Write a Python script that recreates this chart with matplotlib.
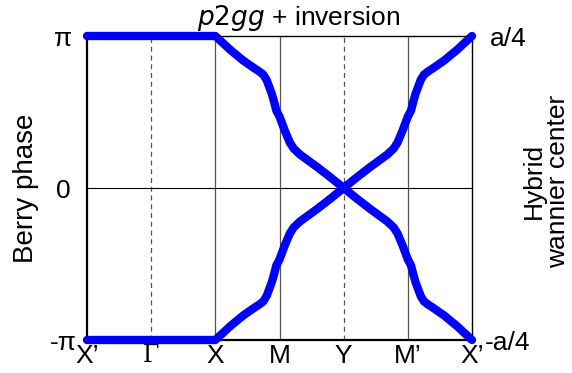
import numpy as np
import matplotlib

matplotlib.use("Agg")
import matplotlib.pyplot as plt

plt.rcParams["font.family"] = ["Liberation Sans", "DejaVu Sans"]

# k-path positions and labels
k_ticks = [0, 1, 2, 3, 4, 5, 6]
k_labels = ["X’", "Γ", "X", "M", "Y", "M’", "X’"]

# upper Wannier band along the path (y in units of pi)
k_path = [0.0, 2.0, 2.23, 2.43, 2.6, 2.69, 2.75, 2.80, 2.88, 2.92, 2.95, 3.0,
          3.08, 3.16, 3.22, 3.32, 3.58, 3.78, 4.0,
          4.22, 4.42, 4.68, 4.78, 4.84, 4.92, 5.0, 5.05, 5.08, 5.12, 5.2, 5.25,
          5.31, 5.4, 5.57, 5.77, 6.0]
phase_up = [1.0, 1.0, 0.91, 0.84, 0.79, 0.765, 0.745, 0.71, 0.62, 0.56, 0.51, 0.47,
            0.38, 0.30, 0.26, 0.22, 0.14, 0.075, 0.0,
            -0.075, -0.14, -0.22, -0.26, -0.30, -0.38, -0.47, -0.51, -0.56, -0.62,
            -0.71, -0.745, -0.765, -0.79, -0.84, -0.91, -1.0]
# lower band is the inversion partner
phase_dn = [-v for v in phase_up]

W, H = 572, 373
fig = plt.figure(figsize=(W / 100, H / 100), dpi=100)
ax = fig.add_axes([87 / W, 1 - 340 / H, 385 / W, 304 / H])

for xv in [1, 4]:
    ax.axvline(xv, color="#555555", ls=(0, (4, 3)), lw=0.9, zorder=1)
for xv in [2, 3, 5]:
    ax.axvline(xv, color="#555555", lw=0.9, zorder=1)
ax.axhline(0, color="black", lw=0.8, zorder=1)

for ys in (phase_up, phase_dn):
    ax.plot(k_path, np.array(ys) * np.pi, color="#0000ff", lw=6,
            solid_capstyle="round", solid_joinstyle="round", zorder=3, clip_on=False)

ax.set_xlim(0, 6)
ax.set_ylim(-np.pi, np.pi)
ax.set_xticks(k_ticks)
ax.set_xticklabels(k_labels, fontsize=19)
ax.get_xticklabels()[1].set_family("DejaVu Serif")
ax.get_xticklabels()[1].set_fontsize(17)
ax.set_yticks([-np.pi, 0, np.pi])
ax.set_yticklabels(["-π", "0", "π"], fontsize=19, ha="center")
ax.tick_params(axis="x", length=0, pad=3)
ax.tick_params(axis="y", length=0, pad=17)
for side in ["left", "bottom"]:
    ax.spines[side].set_linewidth(1.6)
for side in ["top", "right"]:
    ax.spines[side].set_linewidth(1.0)

ax2 = ax.twinx()
ax2.set_ylim(-1, 1)
ax2.set_yticks([-1, 1])
ax2.set_yticklabels(["-a/4", "a/4"], fontsize=19, ha="center")
ax2.tick_params(length=0, pad=26)
for s in ax2.spines.values():
    s.set_visible(False)

fig.text(299 / W, 1 - 18 / H, "$\\it{p2gg}$ + inversion", fontsize=19,
         ha="center", va="center")
fig.text(26 / W, 1 - 188 / H, "Berry phase", fontsize=20, rotation=90,
         ha="center", va="center")
fig.text(546 / W, 1 - 181 / H, "Hybrid\nwannier center", fontsize=19, rotation=90,
         ha="center", va="center", multialignment="center", linespacing=1.0)

fig.savefig("out.png", dpi=100)
